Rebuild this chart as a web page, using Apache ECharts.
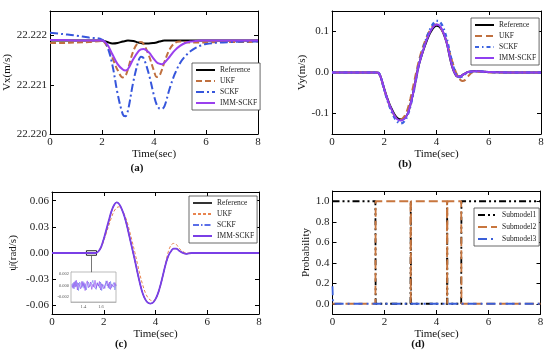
<!DOCTYPE html>
<html><head><meta charset="utf-8">
<script src="https://cdn.jsdelivr.net/npm/echarts@6/dist/echarts.min.js"></script>
<style>html,body{margin:0;padding:0;background:#fff}#c{width:550px;height:359px}</style>
</head><body><div id="c"></div>
<script>
// ---------- Panel (a): Vx ----------
const tA = [0,0.5,1,1.5,2,2.2,2.4,2.6,2.8,2.9,3.0,3.2,3.4,3.5,3.6,3.8,4.0,4.1,4.2,4.3,4.4,4.6,4.8,5.0,5.2,5.4,5.6,5.8,6.0,6.5,7,7.5,8];
const refA = [22.2219,22.2219,22.2219,22.2219,22.2219,22.22187,22.22184,22.22185,22.22188,22.22189,22.2219,22.22189,22.22186,22.22185,22.22184,22.22184,22.22185,22.22186,22.22188,22.22189,22.2219,22.2219,22.2219,22.2219,22.2219,22.2219,22.2219,22.2219,22.2219,22.2219,22.2219,22.2219,22.2219];
const ukfA = [22.22185,22.22185,22.22186,22.22187,22.22189,22.22178,22.22155,22.2213,22.22115,22.22118,22.22132,22.22168,22.22186,22.22187,22.22183,22.2216,22.22128,22.22116,22.22118,22.2213,22.22146,22.22172,22.22185,22.22188,22.22187,22.22186,22.22186,22.22186,22.22186,22.22187,22.22187,22.22187,22.22188];
const sckfA = [22.22206,22.22203,22.222,22.22196,22.22192,22.22178,22.2214,22.22082,22.2204,22.22036,22.22048,22.22105,22.22148,22.22157,22.22154,22.22122,22.22078,22.2206,22.22052,22.22051,22.22056,22.22092,22.22122,22.22144,22.22158,22.22168,22.22175,22.2218,22.22183,22.22186,22.22187,22.22188,22.22188];
const immA = [22.22191,22.22191,22.2219,22.2219,22.2219,22.22182,22.22162,22.22142,22.22131,22.22129,22.22132,22.22152,22.22168,22.22172,22.22173,22.22166,22.22152,22.22146,22.22143,22.22142,22.22145,22.22157,22.2217,22.22179,22.22185,22.22188,22.22189,22.2219,22.2219,22.2219,22.2219,22.2219,22.2219];
const yTicksA = [22.220,22.221,22.222];

// ---------- Panel (b): Vy ----------
const tB = [0,1,1.7,1.8,1.9,2.0,2.1,2.2,2.3,2.4,2.5,2.6,2.7,2.8,2.9,3.0,3.1,3.2,3.3,3.4,3.5,3.6,3.7,3.8,3.9,4.0,4.1,4.2,4.3,4.4,4.5,4.6,4.7,4.8,4.9,5.0,5.1,5.2,5.4,5.6,5.8,6.0,7,8];
const refB = [0,0,0,-0.002,-0.018,-0.04,-0.06,-0.077,-0.091,-0.103,-0.111,-0.114,-0.114,-0.11,-0.1,-0.078,-0.052,-0.02,0.012,0.035,0.055,0.073,0.089,0.101,0.11,0.114,0.112,0.104,0.09,0.07,0.04,0.014,-0.002,-0.01,-0.01,-0.006,-0.002,0.001,0.003,0.003,0.002,0.001,0,0];
const ukfB = [0,0,0,-0.003,-0.02,-0.042,-0.062,-0.08,-0.095,-0.106,-0.113,-0.115,-0.112,-0.104,-0.088,-0.064,-0.036,-0.006,0.022,0.046,0.066,0.083,0.097,0.108,0.115,0.117,0.113,0.104,0.09,0.072,0.05,0.028,0.008,-0.007,-0.017,-0.021,-0.018,-0.01,0.001,0.002,0.001,0,0,0];
const sckfB = [0,0,0,-0.002,-0.019,-0.042,-0.063,-0.082,-0.098,-0.111,-0.12,-0.124,-0.123,-0.116,-0.103,-0.082,-0.055,-0.022,0.012,0.038,0.06,0.08,0.097,0.111,0.121,0.126,0.125,0.117,0.102,0.08,0.052,0.024,0.004,-0.008,-0.011,-0.009,-0.004,0,0.002,0.003,0.002,0.001,0,0];
const immB = [0,0,0,-0.002,-0.018,-0.041,-0.061,-0.079,-0.093,-0.106,-0.114,-0.117,-0.116,-0.111,-0.1,-0.079,-0.052,-0.02,0.012,0.036,0.056,0.075,0.091,0.104,0.113,0.117,0.115,0.106,0.091,0.07,0.041,0.015,-0.002,-0.01,-0.01,-0.006,-0.002,0.001,0.003,0.003,0.002,0.001,0,0];
const yTicksB = [-0.1,0,0.1];

// ---------- Panel (c): yaw rate ----------
const tC = [0,1,1.7,1.8,1.9,2.0,2.1,2.2,2.3,2.4,2.5,2.6,2.7,2.8,2.9,3.0,3.1,3.2,3.3,3.4,3.5,3.6,3.7,3.8,3.9,4.0,4.1,4.2,4.3,4.4,4.5,4.6,4.7,4.8,4.9,5.0,5.2,5.4,5.6,6,7,8];
const refC = [0,0,0,0.002,0.007,0.016,0.026,0.037,0.048,0.055,0.058,0.056,0.05,0.042,0.031,0.018,0.005,-0.008,-0.022,-0.035,-0.046,-0.053,-0.057,-0.058,-0.057,-0.053,-0.046,-0.036,-0.024,-0.012,-0.003,0.002,0.005,0.005,0.003,0.001,-0.001,0,0,0,0,0];
const ukfC = [0,0,0,0.002,0.006,0.014,0.023,0.032,0.041,0.048,0.052,0.053,0.05,0.044,0.036,0.025,0.013,0.001,-0.012,-0.025,-0.036,-0.045,-0.051,-0.054,-0.055,-0.053,-0.047,-0.037,-0.024,-0.01,0.002,0.009,0.011,0.01,0.006,0.003,0,0,0,0,0,0];
const sckfC = [0,0,0,0.002,0.007,0.016,0.026,0.037,0.048,0.055,0.058,0.056,0.05,0.042,0.031,0.018,0.005,-0.008,-0.022,-0.035,-0.046,-0.053,-0.057,-0.058,-0.057,-0.053,-0.046,-0.036,-0.024,-0.012,-0.003,0.002,0.005,0.005,0.003,0.001,-0.001,0,0,0,0,0];
const immC = [0,0,0,0.002,0.007,0.016,0.027,0.038,0.048,0.055,0.058,0.056,0.05,0.042,0.031,0.018,0.005,-0.008,-0.022,-0.035,-0.046,-0.053,-0.057,-0.058,-0.057,-0.053,-0.046,-0.036,-0.024,-0.012,-0.003,0.002,0.005,0.005,0.003,0.001,-0.001,0,0,0,0,0];
const yTicksC = [-0.06,-0.03,0,0.03,0.06];
// inset (zoomed noise)
const tIn = [1.27,1.2825,1.295,1.3075,1.32,1.3325,1.345,1.3575,1.37,1.3825,1.395,1.4075,1.42,1.4325,1.445,1.4575,1.47,1.4825,1.495,1.5075,1.52,1.5325,1.545,1.5575,1.57,1.5825,1.595,1.6075,1.62,1.6325,1.645,1.6575,1.67,1.6825,1.695,1.7075,1.72,1.7325,1.745,1.7575,1.77];
const immIn = [0.0002,-0.0005,0.0006,-0.0003,0.0009,-0.0008,0.0004,0.0001,-0.0006,0.0007,-0.0002,0.0005,-0.0009,0.0003,0.0008,-0.0004,0,0.0006,-0.0007,0.0002,-0.0003,0.0009,-0.0005,0.0004,-0.0001,0.0007,-0.0008,0.0003,0.0005,-0.0006,0.0001,-0.0002,0.0008,-0.0004,0.0006,-0.0007,0.0002,0.0004,-0.0003,0.0005,-0.0001];
const sckfIn = [-0.0003,0.0004,-0.0006,0.0008,-0.0002,0.0005,-0.0009,0.0006,0.0002,-0.0004,0.0007,-0.0005,0.0003,-0.0008,0.0001,0.0006,-0.0003,-0.0006,0.0004,0.0009,-0.0002,0.0001,-0.0007,0.0005,0.0003,-0.0004,0.0006,-0.0009,0.0002,0.0004,-0.0005,0.0008,-0.0001,0.0003,-0.0006,0.0007,-0.0004,0.0001,0.0005,-0.0008,0.0002];
const xTicksIn = [1.4,1.6];
const yTicksIn = [-0.002,0,0.002];
const zoomBoxX = [1.33,1.72];
const zoomBoxY = [-0.0026,0.0026];
const linkX = 1.53, linkY = [-0.0026,-0.022];

// ---------- Panel (d): model probabilities ----------
const tD12 = [0,1.65,1.66,3.0,3.01,3.02,4.4,4.41,4.42,4.95,4.96,8];
const sub1 = [1,1,0,0,1,0,0,1,0,0,1,1];
const sub2 = [0,0,1,1,0,1,1,0,1,1,0,0];
const tD3 = [0,0.02,8];
const sub3 = [0.17,0,0];
const yTicksD = [0,0.2,0.4,0.6,0.8,1.0];

const FONT = '"Liberation Serif","DejaVu Serif",serif';

const zip = (t, v) => t.map((x, i) => [x, v[i]]);

const grids = [
  {left:50, top:11, width:208, height:123},
  {left:332, top:11, width:209, height:123},
  {left:52, top:192, width:207, height:122},
  {left:332.5, top:191, width:208, height:123},
  {left:71, top:272, width:45, height:30, show:true, backgroundColor:'#fff', borderColor:'#aaa', borderWidth:0.8, z:5}
];

function xAxes(g) {
  const base = {type:'value', gridIndex:g, min:0, max:8, interval:2, splitLine:{show:false},
    axisLine:{onZero:false, lineStyle:{color:'#000', width:1}},
    axisTick:{inside:true, length:4, lineStyle:{color:'#000'}}};
  return [
    Object.assign({}, base, {position:'bottom', axisLabel:{margin:3, fontSize:11, color:'#222', fontFamily:FONT},
      name:'Time(sec)', nameLocation:'middle', nameGap:11, nameTextStyle:{fontSize:11, color:'#111', fontFamily:FONT}}),
    Object.assign({}, base, {position:'top', axisLabel:{show:false}})
  ];
}
function yAxes(g, min, max, ticks, dec, name, gap) {
  const base = {type:'value', gridIndex:g, min:min, max:max, splitLine:{show:false},
    axisLine:{onZero:false, lineStyle:{color:'#000', width:1}},
    axisTick:{inside:true, length:4, lineStyle:{color:'#000'}, customValues:ticks}};
  return [
    Object.assign({}, base, {position:'left', axisLabel:{margin:3, fontSize:11, color:'#222', fontFamily:FONT, customValues:ticks, formatter:v => v.toFixed(dec)},
      name:name, nameLocation:'middle', nameGap:gap, nameTextStyle:{fontSize:11, color:'#111', fontFamily:FONT}}),
    Object.assign({}, base, {position:'right', axisLabel:{show:false}})
  ];
}

const xAxis = [].concat(xAxes(0), xAxes(1), xAxes(2), xAxes(3), [
  {type:'value', gridIndex:4, min:1.26, max:1.77, splitLine:{show:false},
   axisLine:{onZero:false, lineStyle:{color:'#999', width:0.6}},
   axisTick:{inside:true, length:1.5, lineStyle:{color:'#999'}, customValues:xTicksIn},
   axisLabel:{margin:2, fontSize:4.5, color:'#555', fontFamily:FONT, customValues:xTicksIn, formatter:v => v.toFixed(1)}}
]);
const yAxis = [].concat(
  yAxes(0, 22.2200, 22.2225, yTicksA, 3, 'Vx(m/s)', 34),
  yAxes(1, -0.15, 0.15, yTicksB, 1, 'Vy(m/s)', 19),
  yAxes(2, -0.07, 0.07, yTicksC, 2, 'ψ\u0307(rad/s)', 33),
  yAxes(3, -0.1, 1.1, yTicksD, 1, 'Probability', 14), [
  {type:'value', gridIndex:4, min:-0.0029, max:0.00235, splitLine:{show:false},
   axisLine:{onZero:false, lineStyle:{color:'#999', width:0.6}},
   axisTick:{inside:true, length:1.5, lineStyle:{color:'#999'}, customValues:yTicksIn},
   axisLabel:{margin:2, fontSize:4.5, color:'#555', fontFamily:FONT, customValues:yTicksIn, formatter:v => v.toFixed(3)}}
]);

function line(name, p, t, v, color, width, type, extra) {
  return Object.assign({type:'line', name:name, xAxisIndex:2*p, yAxisIndex:2*p, data:zip(t, v),
    symbol:'none', showSymbol:false, smooth:0.35, animation:false,
    lineStyle:{color:color, width:width, type:type}, itemStyle:{color:color}}, extra || {});
}

const C_UKF = '#c0703f', C_SCKF = '#3656dc', C_IMM = '#9a40ee';
const series = [
  line('Reference@a', 0, tA, refA, '#000', 2, 'solid'),
  line('UKF@a', 0, tA, ukfA, C_UKF, 2, [6,3]),
  line('SCKF@a', 0, tA, sckfA, C_SCKF, 2, [8,3,2,3]),
  line('IMM-SCKF@a', 0, tA, immA, C_IMM, 2, 'solid'),

  line('Reference@b', 1, tB, refB, '#000', 2, 'solid'),
  line('UKF@b', 1, tB, ukfB, C_UKF, 2, [7,4]),
  line('SCKF@b', 1, tB, sckfB, '#3a62e0', 2.4, [4,3,1.5,3]),
  line('IMM-SCKF@b', 1, tB, immB, '#8f3ff0', 2, 'solid'),

  line('Reference@c', 2, tC, refC, '#333', 1, 'solid'),
  line('UKF@c', 2, tC, ukfC, '#e8844f', 1, [3,2]),
  line('SCKF@c', 2, tC, sckfC, '#5a6ee8', 1, [6,2,1.5,2]),
  line('IMM-SCKF@c', 2, tC, immC, '#7a3fe6', 1.8, 'solid', {
    markArea:{silent:true, itemStyle:{color:'rgba(0,0,0,0)', borderColor:'#222', borderWidth:1},
      data:[[{coord:[zoomBoxX[0], zoomBoxY[0]]}, {coord:[zoomBoxX[1], zoomBoxY[1]]}]]},
    markLine:{silent:true, symbol:'none', label:{show:false}, lineStyle:{color:'#555', width:0.8, type:'solid'},
      data:[[{coord:[linkX, linkY[0]]}, {coord:[linkX, linkY[1]]}]]}
  }),
  {type:'line', name:'inSCKF', xAxisIndex:8, yAxisIndex:8, data:zip(tIn, sckfIn), symbol:'none', animation:false, z:6,
    lineStyle:{color:'#6a7cf0', width:0.6}},
  {type:'line', name:'inIMM', xAxisIndex:8, yAxisIndex:8, data:zip(tIn, immIn), symbol:'none', animation:false, z:6,
    lineStyle:{color:'#8a40ee', width:0.6}},

  Object.assign(line('Submodel1@d', 3, tD12, sub1, '#000', 1.8, [7,3,2,3,2,3]), {smooth:false}),
  Object.assign(line('Submodel2@d', 3, tD12, sub2, '#c8763e', 1.8, [9,4]), {smooth:false}),
  Object.assign(line('Submodel3@d', 3, tD3, sub3, '#3a5fd8', 1.8, [9,4,2,4]), {smooth:false})
];

function legend(names, left, top, gap) {
  return {data:names, left:left, top:top, orient:'vertical', itemWidth:19, itemHeight:8, itemGap:gap,
    padding:[3,3,3,3], borderColor:'#444', borderWidth:0.8, backgroundColor:'#fff', selectedMode:false,
    itemStyle:{opacity:0, borderWidth:0},
    textStyle:{fontSize:7.5, color:'#222', fontFamily:FONT}, formatter:n => n.split('@')[0]};
}
const legends = [
  legend(['Reference@a','UKF@a','SCKF@a','IMM-SCKF@a'], 192, 63, 3),
  legend(['Reference@b','UKF@b','SCKF@b','IMM-SCKF@b'], 471, 18, 3),
  legend(['Reference@c','UKF@c','SCKF@c','IMM-SCKF@c'], 189, 196, 3),
  legend(['Submodel1@d','Submodel2@d','Submodel3@d'], 474, 208, 4)
];

const captions = [['(a)',137,168],['(b)',405,164],['(c)',121,344],['(d)',418,344]];
const graphic = captions.map(c => ({type:'text', x:c[1], y:c[2], silent:true,
  style:{text:c[0], align:'center', verticalAlign:'middle', font:'bold 11px ' + FONT, fill:'#111'}}));

const chart = echarts.init(document.getElementById('c'), null, {renderer:'canvas'});
chart.setOption({animation:false, backgroundColor:'#fff', grid:grids, xAxis:xAxis, yAxis:yAxis,
  legend:legends, series:series, graphic:graphic});
</script></body></html>
